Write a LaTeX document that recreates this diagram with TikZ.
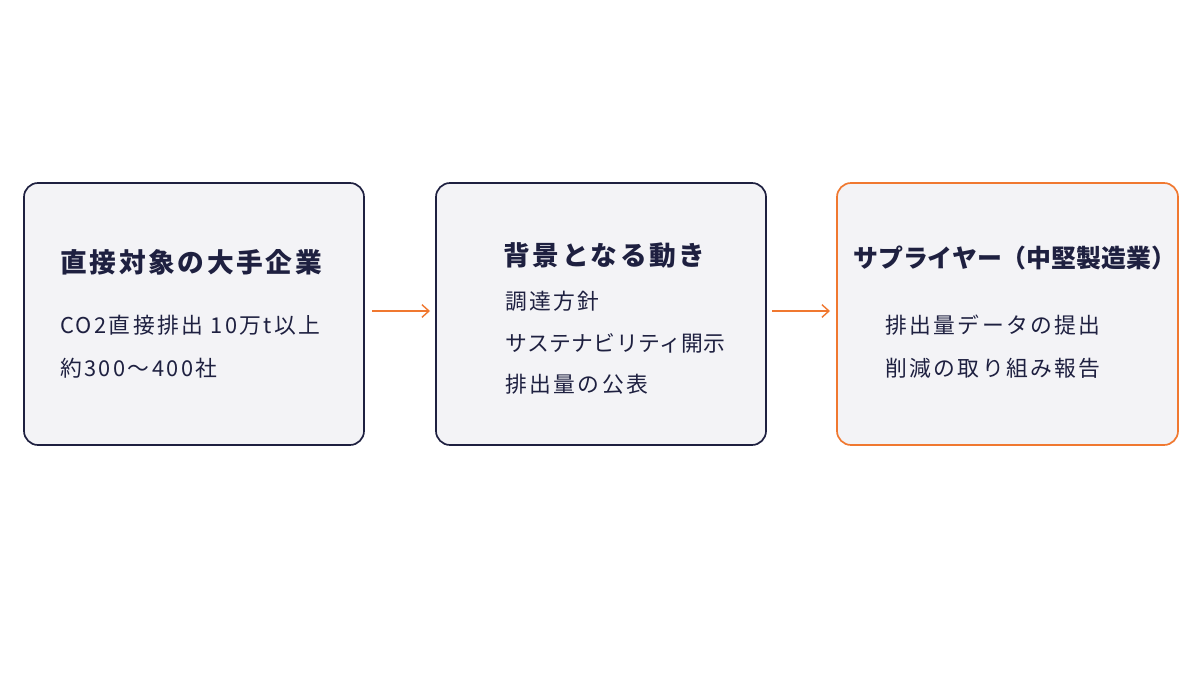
\documentclass[tikz,border=0pt]{standalone}
\usepackage{fontspec}
\setmainfont{Noto Sans CJK JP}
\usetikzlibrary{positioning,arrows.meta}
\definecolor{navy}{HTML}{1E2040}
\definecolor{boxfill}{HTML}{F3F3F6}
\definecolor{accent}{HTML}{F07830}
\tikzset{
  card/.style={draw=navy, line width=1.2pt, fill=boxfill, rounded corners=10pt, minimum height=262*0.025cm, inner sep=0pt},
  title/.style={text=navy, font=\fontsize{19}{22}\selectfont\bfseries\addfontfeatures{LetterSpace=10}, inner sep=0pt, anchor=west},
  item/.style={text=navy, font=\fontsize{15.5}{20}\selectfont\addfontfeatures{LetterSpace=11}, inner sep=0pt, anchor=west},
  flow/.style={draw=accent, line width=1pt, -{Straight Barb[length=5pt,width=9pt]}}
}
\begin{document}
\begin{tikzpicture}[x=0.025cm,y=-0.025cm]
\useasboundingbox[fill=white] (0,0) rectangle (1200,675);

\node[card, minimum width=340*0.025cm] (box1) at (194,314) {};
\node[card, minimum width=330*0.025cm] (box2) at (601,314) {};
\node[card, draw=accent, minimum width=341*0.025cm] (box3) at (1007.5,314) {};

% first card
\node[title] (t1) at (60,262) {直接対象の大手企業};
\node[item] (a1) at (60,325) {CO2直接排出 10万t以上};
\node[item] (a2) at (60,368) {約300〜400社};

% second card
\node[title] (t2) at (503,255) {背景となる動き};
\node[item] (b1) at (505,301) {調達方針};
\node[item, font=\fontsize{15.5}{20}\selectfont\addfontfeatures{LetterSpace=2}] (b2) at (505,343) {サステナビリティ開示};
\node[item] (b3) at (505,384) {排出量の公表};

% third card
\node[title, font=\fontsize{17.7}{22}\selectfont\bfseries] (t3) at (853,258) {サプライヤー（中堅製造業）};
\node[item] (c1) at (885,325) {排出量データの提出};
\node[item] (c2) at (885,368) {削減の取り組み報告};

\coordinate (p1) at (372,311);
\coordinate (p2) at (430,311);
\coordinate (p3) at (772,311);
\coordinate (p4) at (830,311);
\draw[flow] (p1) -- (p2);
\draw[flow] (p3) -- (p4);
\end{tikzpicture}
\end{document}
